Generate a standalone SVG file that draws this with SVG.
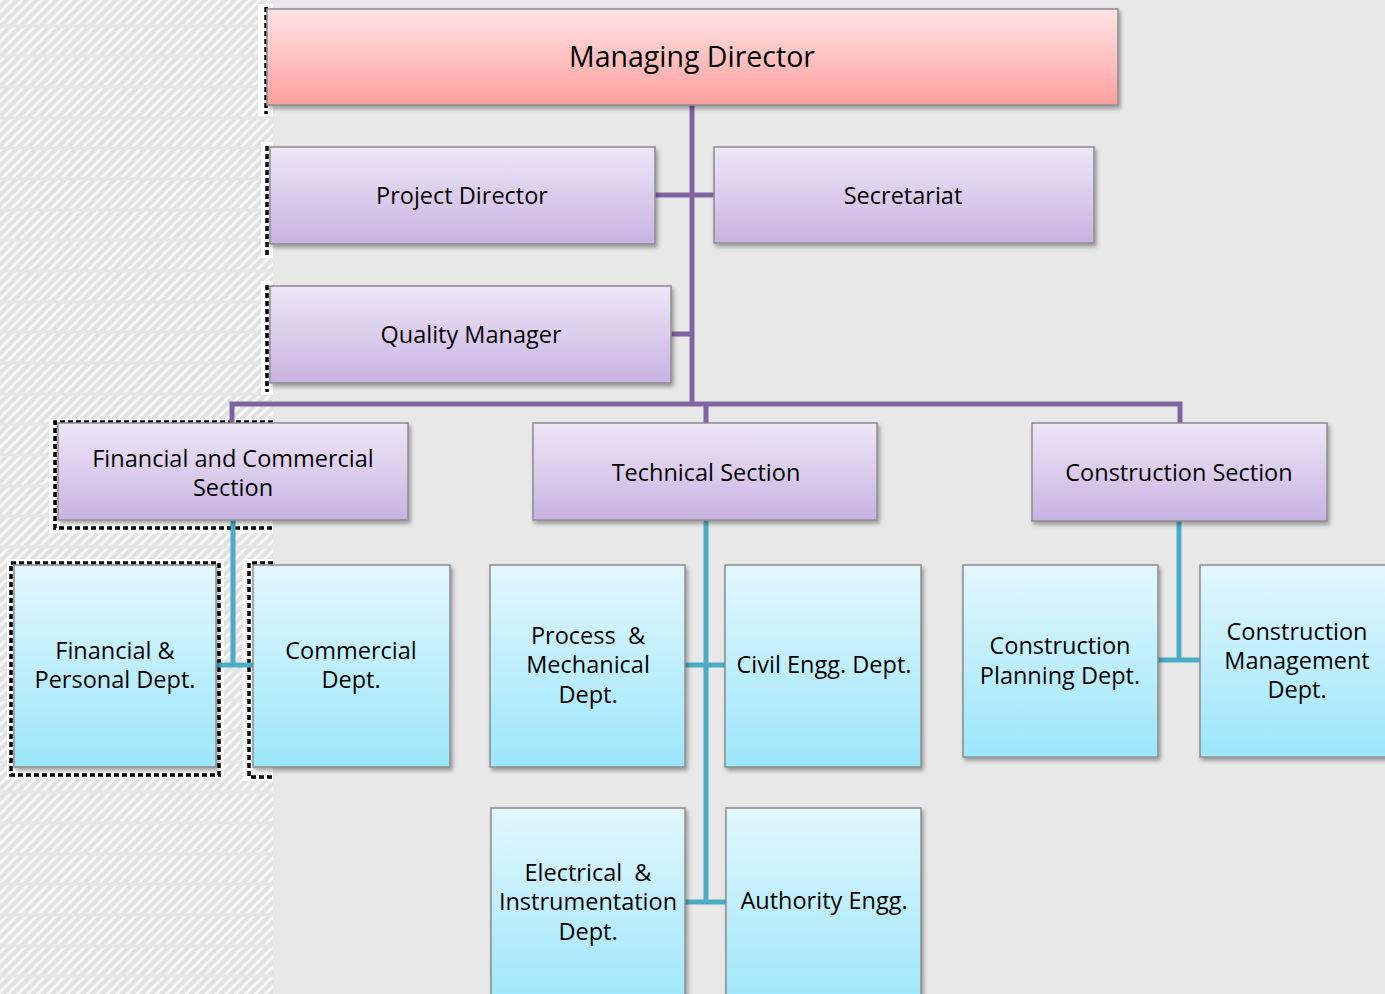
<svg xmlns="http://www.w3.org/2000/svg" width="1385" height="994" viewBox="0 0 1385 994">
<defs>
<linearGradient id="gRed" x1="0" y1="0" x2="0" y2="1"><stop offset="0" stop-color="#ffe4e4"/><stop offset="1" stop-color="#ff9f9f"/></linearGradient>
<linearGradient id="gPur" x1="0" y1="0" x2="0" y2="1"><stop offset="0" stop-color="#eee6f7"/><stop offset="1" stop-color="#c8b3e2"/></linearGradient>
<linearGradient id="gBlu" x1="0" y1="0" x2="0" y2="1"><stop offset="0" stop-color="#e2f7fd"/><stop offset="1" stop-color="#9ce6fb"/></linearGradient>
<pattern id="hatch" width="7" height="7" patternUnits="userSpaceOnUse" patternTransform="rotate(45)">
<rect width="7" height="7" fill="#e1e1e1"/><rect width="3" height="7" fill="#f7f7f7"/></pattern>
<filter id="sh" x="-5%" y="-5%" width="112%" height="120%"><feDropShadow dx="2" dy="3" stdDeviation="2" flood-color="#000" flood-opacity="0.35"/></filter>
</defs>
<style>
.box{stroke:#8c8c8c;stroke-width:1.5;filter:url(#sh)}
.r{fill:url(#gRed)}.p{fill:url(#gPur)}.b{fill:url(#gBlu)}
text{font-family:"Open Sans","Noto Sans","DejaVu Sans",sans-serif;font-size:23.5px;fill:#000;text-anchor:middle}
.big{font-size:28.5px}
.pl{stroke:#8064a2;stroke-width:5;fill:none}
.bl{stroke:#4bacc6;stroke-width:5;fill:none}
.dash{stroke:#000;stroke-width:3.5;stroke-dasharray:5 3;fill:none}
</style>
<rect width="1385" height="994" fill="#e8e8e8"/>
<g id="hatched-strip">
<rect x="0" y="0" width="273" height="994" fill="url(#hatch)"/>
<g stroke="#e6e6e6" stroke-width="3">
<line x1="0" y1="26" x2="273" y2="26"/><line x1="0" y1="56" x2="273" y2="56"/><line x1="0" y1="87" x2="273" y2="87"/><line x1="0" y1="118" x2="273" y2="118"/><line x1="0" y1="148" x2="273" y2="148"/><line x1="0" y1="179" x2="273" y2="179"/><line x1="0" y1="210" x2="273" y2="210"/><line x1="0" y1="240" x2="273" y2="240"/><line x1="0" y1="271" x2="273" y2="271"/><line x1="0" y1="302" x2="273" y2="302"/><line x1="0" y1="332" x2="273" y2="332"/><line x1="0" y1="363" x2="273" y2="363"/><line x1="0" y1="394" x2="273" y2="394"/><line x1="0" y1="424" x2="273" y2="424"/><line x1="0" y1="455" x2="273" y2="455"/><line x1="0" y1="486" x2="273" y2="486"/><line x1="0" y1="516" x2="273" y2="516"/><line x1="0" y1="547" x2="273" y2="547"/><line x1="0" y1="578" x2="273" y2="578"/><line x1="0" y1="608" x2="273" y2="608"/><line x1="0" y1="639" x2="273" y2="639"/><line x1="0" y1="670" x2="273" y2="670"/><line x1="0" y1="700" x2="273" y2="700"/><line x1="0" y1="731" x2="273" y2="731"/><line x1="0" y1="762" x2="273" y2="762"/><line x1="0" y1="792" x2="273" y2="792"/><line x1="0" y1="823" x2="273" y2="823"/><line x1="0" y1="854" x2="273" y2="854"/><line x1="0" y1="884" x2="273" y2="884"/><line x1="0" y1="915" x2="273" y2="915"/><line x1="0" y1="946" x2="273" y2="946"/><line x1="0" y1="976" x2="273" y2="976"/>
</g>
<g fill="#ffffff">
<rect x="258" y="4" width="15" height="112"/><rect x="261" y="142" width="12" height="116"/><rect x="261" y="281" width="12" height="114"/>
<rect x="49" y="419" width="224" height="114"/><rect x="7" y="559" width="217" height="220"/><rect x="243" y="559" width="30" height="222"/>
</g>
<path class="dash" d="M266 7 V114 M267 146 V255 M267 285 V392 M273 422 H55 V528 H273 M11 563 H219 V775 H11 Z M273 563 H249 V777 H273"/>
</g>
<g id="connectors">
<path class="pl" d="M692 105 V404 M655 195 H714 M671 334 H692 M232 423 V404 H1180 V423 M706 404 V423"/>
<path class="bl" d="M233 520 V665 M216 665 H253 M706 520 V902 M685 665 H725 M685 902 H726 M1179 521 V660 M1158 660 H1200"/>
</g>
<g id="managing-director"><rect class="box r" x="267" y="9" width="851" height="96"/><text class="big" x="692" y="67">Managing Director</text></g>
<g id="project-director"><rect class="box p" x="270" y="147" width="385" height="97"/><text x="462" y="204">Project Director</text></g>
<g id="secretariat"><rect class="box p" x="714" y="147" width="380" height="96"/><text x="903" y="204">Secretariat</text></g>
<g id="quality-manager"><rect class="box p" x="270" y="286" width="401" height="97"/><text x="471" y="343">Quality Manager</text></g>
<g id="financial-commercial-section"><rect class="box p" x="58" y="423" width="350" height="97"/><text x="233" y="467">Financial and Commercial</text><text x="233" y="496">Section</text></g>
<g id="technical-section"><rect class="box p" x="533" y="423" width="344" height="97"/><text x="706" y="481">Technical Section</text></g>
<g id="construction-section"><rect class="box p" x="1032" y="423" width="295" height="98"/><text x="1179" y="481">Construction Section</text></g>
<g id="financial-personal-dept"><rect class="box b" x="14" y="565" width="202" height="202"/><text x="115" y="659">Financial &amp;</text><text x="115" y="688">Personal Dept.</text></g>
<g id="commercial-dept"><rect class="box b" x="253" y="565" width="197" height="202"/><text x="351" y="659">Commercial</text><text x="351" y="688">Dept.</text></g>
<g id="process-mechanical-dept"><rect class="box b" x="490" y="565" width="195" height="202"/><text x="588" y="644" xml:space="preserve">Process  &amp;</text><text x="588" y="673">Mechanical</text><text x="588" y="703">Dept.</text></g>
<g id="civil-engg-dept"><rect class="box b" x="725" y="565" width="196" height="202"/><text x="824" y="673">Civil Engg. Dept.</text></g>
<g id="electrical-instrumentation-dept"><rect class="box b" x="491" y="808" width="194" height="200"/><text x="588" y="881" xml:space="preserve">Electrical  &amp;</text><text x="588" y="910">Instrumentation</text><text x="588" y="940">Dept.</text></g>
<g id="authority-engg"><rect class="box b" x="726" y="808" width="195" height="200"/><text x="824" y="909">Authority Engg.</text></g>
<g id="construction-planning-dept"><rect class="box b" x="963" y="565" width="195" height="192"/><text x="1060" y="654">Construction</text><text x="1060" y="684">Planning Dept.</text></g>
<g id="construction-management-dept"><rect class="box b" x="1200" y="565" width="195" height="192"/><text x="1297" y="640">Construction</text><text x="1297" y="669">Management</text><text x="1297" y="698">Dept.</text></g>
</svg>
